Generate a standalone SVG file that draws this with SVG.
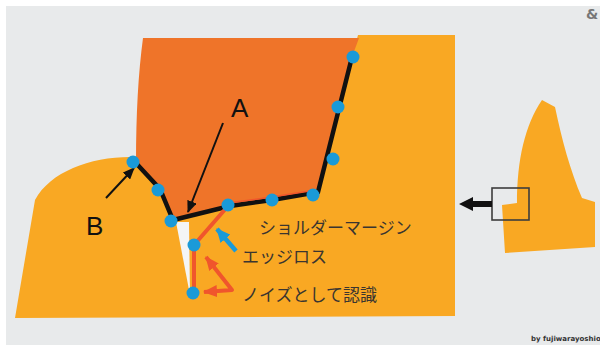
<svg xmlns="http://www.w3.org/2000/svg" width="600" height="345" viewBox="0 0 600 345">
  <style>
    .yellow { fill: #f9a823; }
    .orange { fill: #ef7429; }
    .dot { fill: #1a9ad8; }
    .outline { fill: none; stroke: #111; stroke-width: 4.5; stroke-linejoin: miter; }
    .pointer { fill: none; stroke: #111; stroke-width: 2; }
    .red { fill: none; stroke: #f0562c; stroke-width: 4; stroke-linejoin: round; }
    .blue { fill: none; stroke: #1a9ad8; stroke-width: 4.5; }
    .letter { font-family: "Liberation Sans", Arial, sans-serif; font-size: 26px; fill: #111; }
    .jp { font-family: "Noto Sans CJK JP", "Noto Sans", sans-serif; font-size: 17px; fill: #3a3530; }
  </style>
  <defs>
    <marker id="headBlack" markerUnits="userSpaceOnUse" markerWidth="12" markerHeight="10" refX="11" refY="5" orient="auto">
      <path d="M0,0 L12,5 L0,10 Z" fill="#111"/>
    </marker>
    <marker id="headRed" markerUnits="userSpaceOnUse" markerWidth="14" markerHeight="12" refX="13" refY="6" orient="auto">
      <path d="M0,0 L14,6 L0,12 Z" fill="#f0562c"/>
    </marker>
    <marker id="headRedStart" markerUnits="userSpaceOnUse" markerWidth="14" markerHeight="12" refX="1" refY="6" orient="auto">
      <path d="M14,0 L0,6 L14,12 Z" fill="#f0562c"/>
    </marker>
    <marker id="headBlue" markerUnits="userSpaceOnUse" markerWidth="14" markerHeight="13" refX="13" refY="6.5" orient="auto">
      <path d="M0,0 L14,6.5 L0,13 Z" fill="#1a9ad8"/>
    </marker>
  </defs>

  <!-- page and backdrop -->
  <rect width="600" height="345" fill="#ffffff"/>
  <rect x="6" y="6" width="594" height="339" fill="#e8eaeb"/>

  <!-- cross-section of the teeth -->
  <g id="teeth">
    <path class="yellow" d="M35,200 C50,172 90,157 130,157 L160,189 L173,220 L230,206 L316,192 L352,57 L358,35 L455,35 L455,316 L15,318 Z"/>
    <polygon points="176,222 189,222 190,295" fill="#f4f5f5"/>
    <path class="orange" d="M143,38 L359,38 L352,57 L317,192 L230,206 L173,220 L160,189 L136,162 Q136,90 143,38 Z"/>
  </g>

  <!-- overview thumbnail -->
  <g id="thumbnail">
    <path class="yellow" d="M542,100 L555,107 C562,140 570,170 582,198 L595,202 L595,247 L505,253 L502,205 L517,203 C517,160 525,125 542,100 Z"/>
    <rect x="492" y="188" width="37" height="32" fill="none" stroke="#3d3d3d" stroke-width="1.6"/>
    <path d="M492,201 L473,201 L473,197 L459,204 L473,211 L473,207 L492,207 Z" fill="#111"/>
  </g>

  <!-- detected contour and noise path -->
  <g id="connectors">
    <polyline class="outline" points="135,162 160,189 173,220 230,206 272,200 318,192 352,57"/>
    <polyline points="228,203 272,197 316,190" fill="none" stroke="#f0562c" stroke-width="1.5"/>
    <polyline class="red" points="228,206 194,245 194,293"/>
    <line class="pointer" x1="223" y1="123" x2="188" y2="212" marker-end="url(#headBlack)"/>
    <line class="pointer" x1="106" y1="198" x2="134" y2="168" marker-end="url(#headBlack)"/>
    <path class="red" d="M206,257 L232,290 L204,292" marker-start="url(#headRedStart)" marker-end="url(#headRed)"/>
    <line class="blue" x1="236" y1="251" x2="217" y2="229" marker-end="url(#headBlue)"/>
  </g>

  <!-- sampled points -->
  <g id="points">
    <circle class="dot" cx="133" cy="162" r="6.5"/>
    <circle class="dot" cx="158" cy="190" r="6.5"/>
    <circle class="dot" cx="171" cy="221" r="6.5"/>
    <circle class="dot" cx="228" cy="205" r="6.5"/>
    <circle class="dot" cx="272" cy="200" r="6.5"/>
    <circle class="dot" cx="313" cy="195" r="6.5"/>
    <circle class="dot" cx="333" cy="159" r="6.5"/>
    <circle class="dot" cx="338" cy="107" r="6.5"/>
    <circle class="dot" cx="353" cy="57" r="6.5"/>
    <circle class="dot" cx="194" cy="245" r="6.5"/>
    <circle class="dot" cx="193" cy="293" r="6.5"/>
  </g>

  <!-- labels -->
  <g id="labels">
    <text class="letter" x="231" y="117">A</text>
    <text class="letter" x="86" y="235">B</text>
    <text class="jp" x="259" y="234">ショルダーマージン</text>
    <text class="jp" x="242" y="263">エッジロス</text>
    <text class="jp" x="242" y="301">ノイズとして認識</text>
    <text x="586" y="19" font-family="DejaVu Sans, sans-serif" font-size="14" font-weight="bold" fill="#777">&amp;</text>
    <text x="531" y="341" font-family="DejaVu Sans, sans-serif" font-size="7" font-weight="bold" fill="#333">by fujiwarayoshio</text>
  </g>
</svg>
